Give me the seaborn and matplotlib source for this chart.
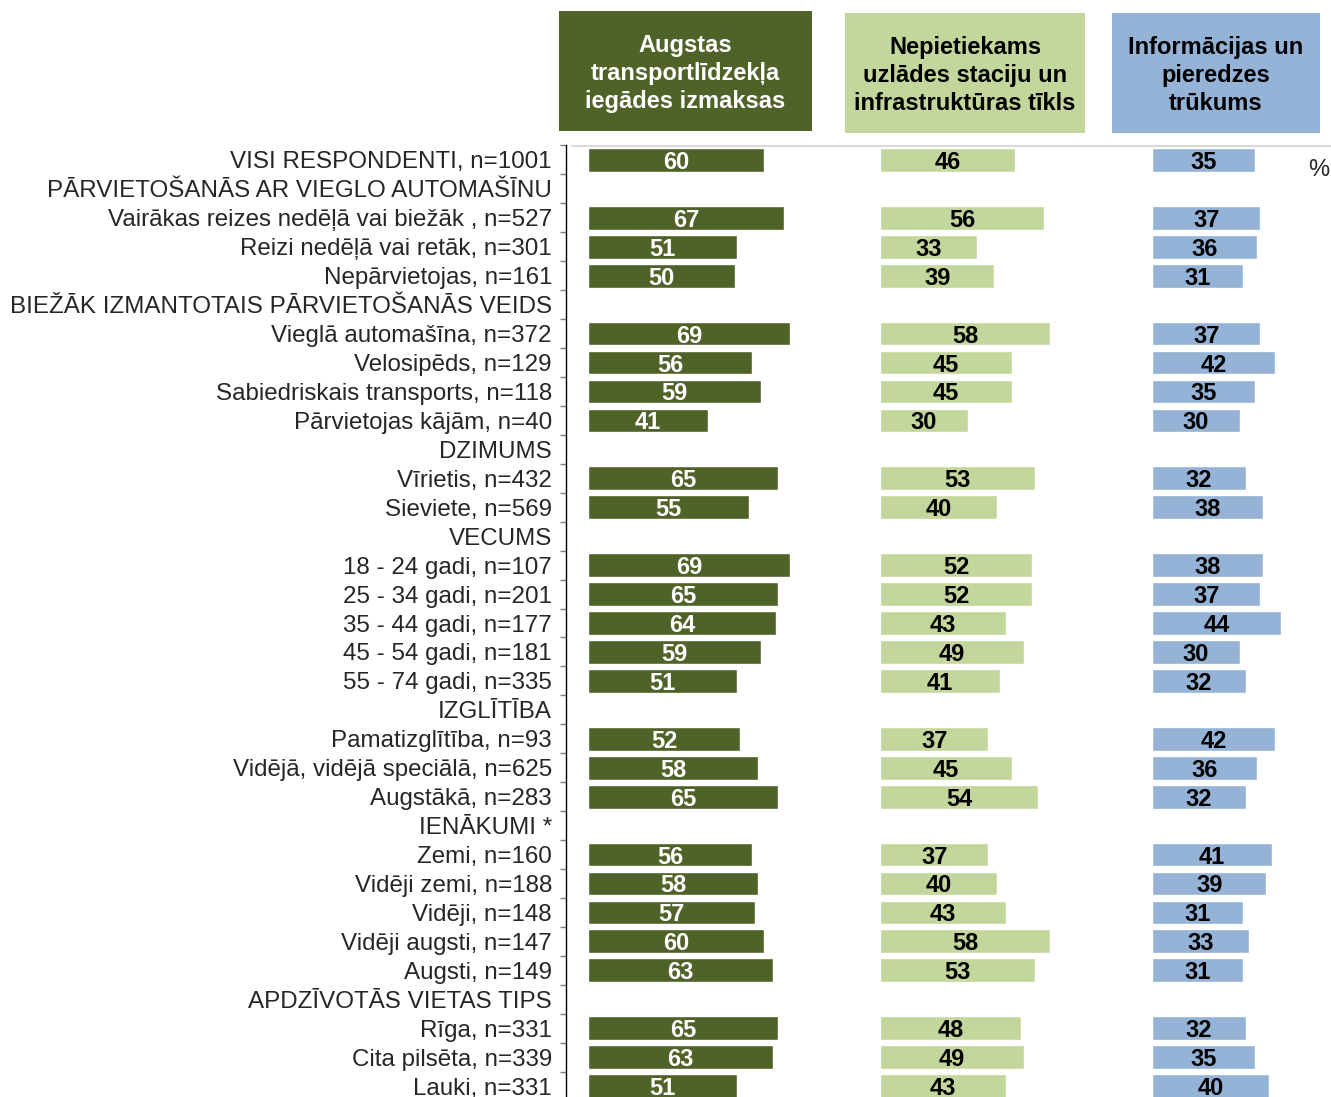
import numpy as np
import pandas as pd
import seaborn as sns
import matplotlib.pyplot as plt
from matplotlib.patches import Rectangle
from matplotlib.lines import Line2D
from matplotlib.ticker import FixedLocator

# --- dati ---
labels = [
    "VISI RESPONDENTI, n=1001",
    "PĀRVIETOŠANĀS AR VIEGLO AUTOMAŠĪNU",
    "Vairākas reizes nedēļā vai biežāk , n=527",
    "Reizi nedēļā vai retāk, n=301",
    "Nepārvietojas, n=161",
    "BIEŽĀK IZMANTOTAIS PĀRVIETOŠANĀS VEIDS",
    "Vieglā automašīna, n=372",
    "Velosipēds, n=129",
    "Sabiedriskais transports, n=118",
    "Pārvietojas kājām, n=40",
    "DZIMUMS",
    "Vīrietis, n=432",
    "Sieviete, n=569",
    "VECUMS",
    "18 - 24 gadi, n=107",
    "25 - 34 gadi, n=201",
    "35 - 44 gadi, n=177",
    "45 - 54 gadi, n=181",
    "55 - 74 gadi, n=335",
    "IZGLĪTĪBA",
    "Pamatizglītība, n=93",
    "Vidējā, vidējā speciālā, n=625",
    "Augstākā, n=283",
    "IENĀKUMI *",
    "Zemi, n=160",
    "Vidēji zemi, n=188",
    "Vidēji, n=148",
    "Vidēji augsti, n=147",
    "Augsti, n=149",
    "APDZĪVOTĀS VIETAS TIPS",
    "Rīga, n=331",
    "Cita pilsēta, n=339",
    "Lauki, n=331",
]
nan = np.nan
izmaksas = [60, nan, 67, 51, 50, nan, 69, 56, 59, 41, nan, 65, 55, nan, 69, 65, 64, 59, 51,
            nan, 52, 58, 65, nan, 56, 58, 57, 60, 63, nan, 65, 63, 51]
infrastruktura = [46, nan, 56, 33, 39, nan, 58, 45, 45, 30, nan, 53, 40, nan, 52, 52, 43, 49, 41,
                  nan, 37, 45, 54, nan, 37, 40, 43, 58, 53, nan, 48, 49, 43]
informacija = [35, nan, 37, 36, 31, nan, 37, 42, 35, 30, nan, 32, 38, nan, 38, 37, 44, 30, 32,
               nan, 42, 36, 32, nan, 41, 39, 31, 33, 31, nan, 32, 35, 40]

headers = ["Augstas\ntransportlīdzekļa\niegādes izmaksas",
           "Nepietiekams\nuzlādes staciju un\ninfrastruktūras tīkls",
           "Informācijas un\npieredzes\ntrūkums"]
colors = ["#4f6228", "#c3d69b", "#95b3d7"]
text_colors = ["white", "black", "black"]

sns.set_style("white")
plt.rcParams['font.family'] = ['Liberation Sans', 'DejaVu Sans']

W, H = 1331, 1097
fig = plt.figure(figsize=(W / 100, H / 100), dpi=100)

px_per_unit = 2.93
top_px, bot_px = 145.5, 1097
row_h = 28.94
ymax = (bot_px - top_px) / row_h - 0.5

panels = [(588, 845), (880, 1145), (1152, 1331)]
series = [izmaksas, infrastruktura, informacija]

for i, ((l, r), vals) in enumerate(zip(panels, series)):
    ax = fig.add_axes([l / W, 1 - bot_px / H, (r - l) / W, (bot_px - top_px) / H])
    d = pd.DataFrame({"label": labels, "v": vals})
    sns.barplot(data=d, x="v", y="label", order=labels, color=colors[i],
                width=0.82, saturation=1, ax=ax, orient="h")
    ax.set_xlim(0, (r - l) / px_per_unit)
    ax.set_ylim(ymax, -0.5)
    txts = ax.bar_label(ax.containers[0], fmt="{:.0f}", label_type="center",
                        color=text_colors[i], fontsize=17, fontweight="bold")
    for t in txts:
        t.set_va("center_baseline")
    ax.set_xlabel("")
    ax.set_ylabel("")
    ax.set_xticks([])
    for s in ["top", "right", "bottom"]:
        ax.spines[s].set_visible(False)
    if i == 0:
        ax.spines["left"].set_position(("outward", 16))
        ax.spines["left"].set_color("black")
        ax.spines["left"].set_linewidth(1.0)
        ax.tick_params(axis="y", which="major", length=0, pad=10, labelsize=17.4)
        ax.yaxis.set_minor_locator(FixedLocator(np.arange(-0.5, len(labels), 1)))
        ax.tick_params(axis="y", which="minor", left=True, length=4.5, width=1.0,
                       color="#808080", direction="out")
    else:
        ax.spines["left"].set_visible(False)
        ax.set_yticks([])

# augšējā līnija
fig.add_artist(Line2D([572 / W, 1.0], [1 - 145.5 / H, 1 - 145.5 / H],
                      color="#d9d9d9", lw=1.5, transform=fig.transFigure))

# virsraksti
boxes = [(559, 11, 812, 131), (845, 13, 1085, 133), (1112, 13, 1320, 133)]
for (x0, y0, x1, y1), txt, c, tc in zip(boxes, headers, colors, text_colors):
    fig.add_artist(Rectangle((x0 / W, 1 - y1 / H), (x1 - x0) / W, (y1 - y0) / H,
                             color=c, transform=fig.transFigure, lw=0))
    fig.text((x0 + x1) / 2 / W, 1 - ((y0 + y1) / 2 + 2.5) / H, txt, ha="center", va="center",
             color=tc, fontsize=17, fontweight="bold", linespacing=1.3)

fig.text(1319 / W, 1 - 170 / H, "%", ha="center", va="center", fontsize=17)

fig.savefig("out.png", dpi=100)
